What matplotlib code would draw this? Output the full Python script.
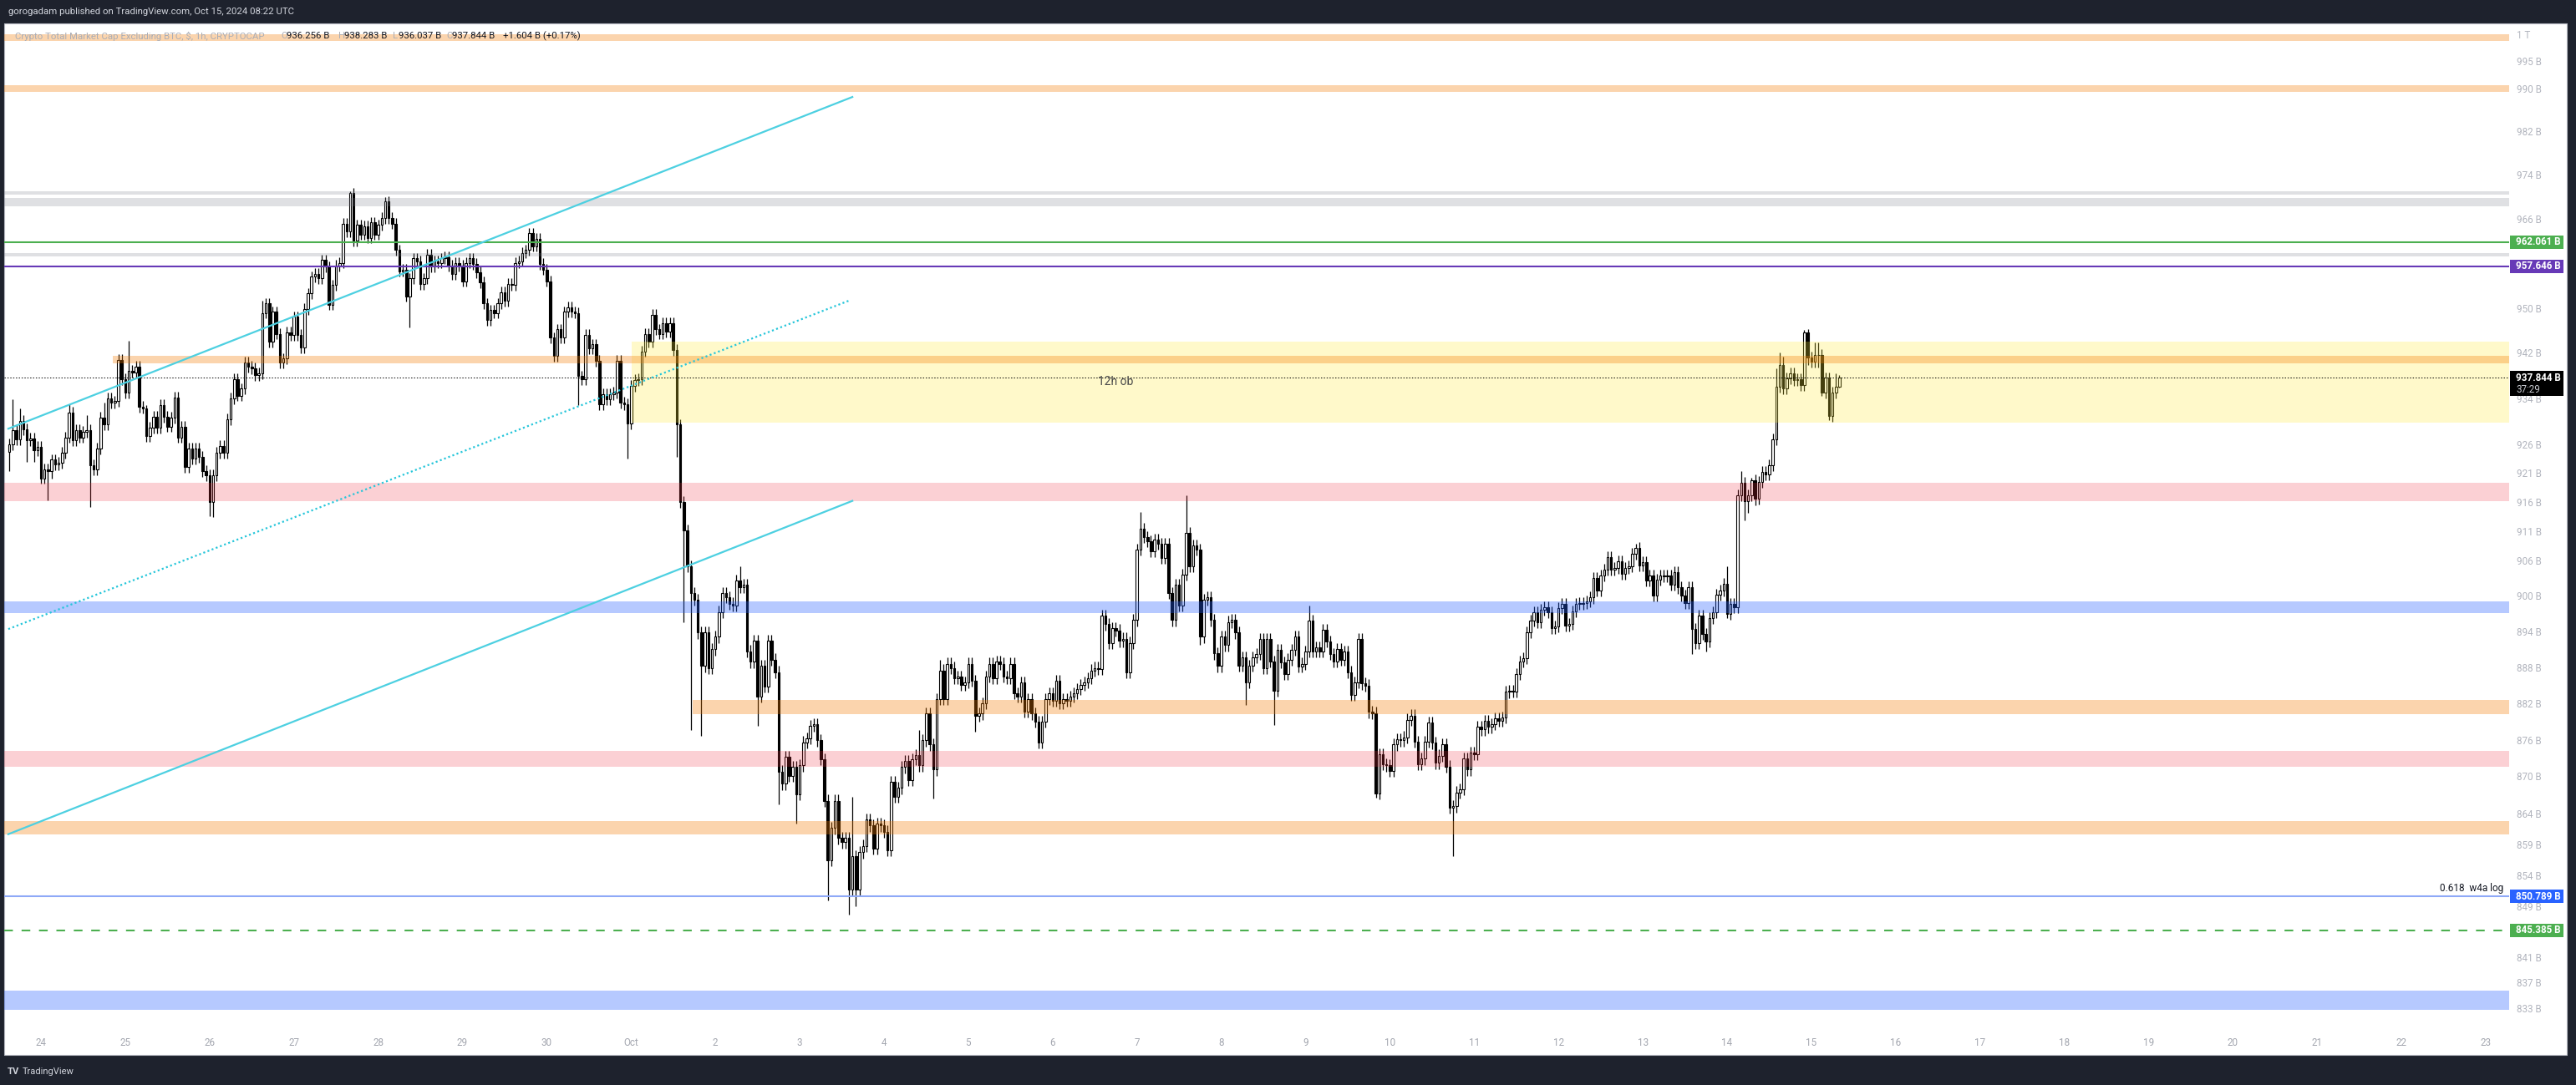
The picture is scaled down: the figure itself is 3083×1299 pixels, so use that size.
import matplotlib.pyplot as plt
from matplotlib import font_manager
from matplotlib.patches import Rectangle

###############################
# Data: Crypto Total Market Cap Excluding BTC (CRYPTOCAP), 1h candles, billions USD
# x axis = hours counted from Sep 24 00:00 UTC

first_hour = -9          # first visible candle is Sep 23 15:00
first_open = 924.8

close_sep23 = [926.2, 928.6, 927.1, 930.3, 928.8, 926.9, 927.2, 925.2, 925.7]
close_sep24 = [920.3, 921.8, 921.5, 923.5, 922.7, 923.0, 924.7, 927.4, 931.7, 926.9, 928.6, 927.4,
               928.4, 928.6, 922.5, 921.8, 925.4, 930.8, 929.6, 934.2, 933.5, 933.7, 941.0, 937.6]
close_sep25 = [935.2, 939.1, 938.8, 939.8, 932.7, 932.5, 927.6, 929.1, 931.0, 929.1, 933.0, 931.0,
               929.3, 930.8, 934.4, 927.4, 929.3, 922.3, 925.4, 923.7, 925.4, 924.0, 921.5, 920.8]
close_sep26 = [916.2, 920.8, 924.7, 925.9, 924.7, 930.5, 934.2, 937.6, 934.7, 935.9, 940.5, 939.8,
               939.5, 938.3, 938.6, 949.3, 951.0, 944.2, 949.5, 945.6, 940.5, 941.2, 945.9, 945.4]
close_sep27 = [948.6, 945.4, 943.2, 950.0, 952.8, 955.8, 956.3, 955.5, 958.8, 957.6, 950.8, 954.3,
               957.8, 958.3, 965.4, 963.9, 970.9, 962.3, 965.1, 963.4, 964.9, 962.8, 965.6, 963.4]
close_sep28 = [965.1, 966.4, 969.4, 966.4, 965.4, 960.6, 956.8, 957.1, 952.3, 955.5, 959.1, 958.6,
               954.5, 955.5, 959.8, 957.6, 958.6, 958.3, 959.1, 959.3, 957.8, 956.3, 958.3, 957.8]
close_sep29 = [955.0, 958.3, 959.1, 958.1, 956.6, 954.8, 951.0, 948.1, 949.8, 949.3, 951.0, 953.0,
               951.5, 954.5, 954.3, 958.3, 958.6, 960.1, 960.6, 963.6, 961.3, 962.6, 958.1, 957.1]
close_sep30 = [955.0, 944.9, 941.7, 946.4, 944.9, 949.5, 950.3, 949.5, 949.3, 938.1, 937.6, 945.4,
               943.0, 943.7, 940.8, 933.2, 934.9, 934.0, 934.9, 935.2, 940.8, 933.5, 933.2, 929.8]
close_oct01 = [936.4, 937.4, 937.6, 942.5, 945.6, 944.2, 949.0, 946.4, 945.6, 947.5, 946.0, 947.5,
               942.7, 929.6, 916.2, 911.3, 905.2, 900.7, 899.6, 894.0, 888.4, 894.0, 888.1, 891.2]
close_oct02 = [893.3, 897.5, 900.7, 900.0, 898.9, 898.6, 902.8, 901.7, 902.1, 890.9, 889.1, 892.6,
               883.3, 888.4, 885.0, 892.6, 889.5, 887.4, 871.0, 869.0, 873.4, 870.3, 871.7, 867.3]
close_oct03 = [872.0, 875.8, 876.4, 878.5, 878.8, 876.1, 873.0, 866.2, 856.6, 861.8, 866.2, 860.2,
               859.5, 860.2, 851.9, 857.2, 851.9, 857.9, 858.9, 863.2, 862.2, 858.5, 862.5, 862.2]
close_oct04 = [861.2, 858.2, 869.3, 866.9, 868.3, 871.7, 872.7, 869.6, 873.0, 873.7, 872.0, 876.1,
               880.5, 875.4, 871.3, 882.9, 887.7, 882.9, 888.8, 888.1, 886.4, 886.7, 885.3, 885.7]
close_oct05 = [888.8, 886.0, 880.2, 880.5, 882.2, 886.7, 888.8, 886.4, 889.1, 888.8, 886.7, 886.4,
               888.8, 883.9, 883.3, 885.7, 880.9, 882.9, 880.5, 879.2, 875.8, 879.2, 882.9, 883.9]
close_oct06 = [882.6, 886.0, 882.2, 882.9, 882.6, 883.3, 883.9, 884.6, 885.3, 885.7, 886.4, 887.7,
               888.1, 887.9, 896.8, 895.4, 892.3, 894.7, 894.4, 892.6, 893.0, 887.4, 892.3, 896.1]
close_oct07 = [908.1, 911.6, 910.2, 909.5, 907.7, 909.8, 909.1, 906.6, 909.1, 900.7, 896.1, 902.1,
               898.6, 903.8, 910.9, 905.2, 908.8, 908.1, 893.3, 899.6, 900.0, 896.1, 890.5, 888.4]
close_oct08 = [893.3, 891.9, 895.8, 896.1, 894.0, 888.5, 889.9, 885.7, 888.5, 889.9, 890.4, 892.9,
               888.1, 892.9, 889.2, 884.3, 891.1, 889.0, 887.1, 889.5, 891.1, 893.4, 888.3, 888.8]
close_oct09 = [890.8, 896.0, 890.8, 891.5, 890.8, 894.5, 892.5, 890.4, 889.2, 891.3, 889.5, 890.8,
               887.4, 883.6, 885.7, 892.9, 885.5, 885.2, 880.8, 880.6, 867.4, 873.8, 872.2, 872.0]
close_oct10 = [871.1, 875.4, 876.3, 876.1, 876.6, 879.5, 880.2, 875.9, 872.2, 873.1, 875.9, 879.0,
               875.7, 872.4, 873.6, 875.4, 871.8, 865.1, 865.3, 867.6, 868.1, 873.1, 871.3, 874.1]
close_oct11 = [873.8, 878.3, 877.9, 879.3, 878.3, 878.8, 879.7, 879.3, 879.9, 884.1, 884.3, 884.2,
               887.1, 889.2, 889.7, 894.1, 896.0, 897.4, 895.7, 897.8, 898.3, 897.4, 894.8, 895.0]
close_oct12 = [898.1, 898.8, 895.2, 895.5, 897.6, 898.8, 898.9, 899.0, 899.3, 899.9, 903.2, 901.1,
               903.7, 904.7, 906.8, 904.7, 904.9, 906.1, 904.0, 904.9, 905.2, 907.3, 908.3, 905.4]
close_oct13 = [905.9, 902.8, 903.7, 900.2, 903.0, 903.6, 903.5, 903.7, 902.1, 904.2, 901.6, 900.2,
               899.0, 901.6, 894.6, 892.2, 896.9, 893.8, 892.5, 896.4, 897.4, 900.4, 901.1, 902.2]
close_oct14 = [897.1, 898.8, 898.3, 917.3, 919.5, 916.3, 917.3, 920.0, 916.8, 919.7, 921.4, 920.9,
               922.6, 927.0, 936.2, 940.1, 936.0, 937.7, 938.6, 937.4, 937.6, 936.5, 945.8, 941.4]
close_oct15 = [940.6, 941.8, 941.9, 935.2, 937.8, 931.1, 935.2, 936.256, 937.844]

# wick extremes that stand out on the chart (hour: price)
high_read = {-8: 934.0, -6: 932.4, 8: 933.1, 13: 931.2, 18: 933.5, 22: 942.0, 25: 944.4,
             30: 933.0, 63: 951.5, 88: 971.3, 98: 970.2, 199: 905.2, 231: 866.9, 250: 877.8,
             256: 889.5, 302: 897.9, 313: 914.5, 326: 917.3, 361: 898.5, 454: 909.0, 480: 905.2,
             483: 918.3, 484: 921.6, 487: 920.4, 494: 939.5, 495: 942.3, 496: 941.6, 502: 946.3,
             503: 946.5, 505: 944.1, 506: 944.1, 511: 938.6, 512: 938.283}
low_read = {-9: 921.5, -4: 923.2, -2: 923.2, 2: 916.5, 3: 920.3, 14: 915.3, 48: 913.8,
            49: 913.6, 105: 946.8, 153: 933.0, 167: 923.7, 181: 924.0, 183: 895.7, 185: 877.8,
            188: 876.8, 204: 878.5, 210: 865.6, 215: 862.5, 224: 850.2, 230: 847.9, 232: 849.2,
            254: 866.6, 266: 877.5, 330: 891.9, 343: 882.0, 351: 878.6, 380: 866.7, 402: 857.2,
            470: 890.4, 474: 890.8, 480: 896.4, 485: 913.0, 486: 914.4, 488: 915.6, 503: 940.1,
            506: 939.6, 507: 934.7, 509: 930.4, 510: 930.1, 512: 936.037}
wick = 1.0   # typical wick (B) for the other candles

# Zones (rectangles drawn on the chart)
zone_lo = [999.1, 989.5, 970.6, 968.5, 959.4, 940.4, 916.4, 897.3, 880.4, 871.8, 860.8, 832.9]
zone_hi = [1000.3, 990.8, 971.2, 970.0, 960.0, 941.7, 919.5, 899.3, 882.8, 874.4, 862.9, 835.9]
zone_from = [None, None, None, None, None, 20.5, None, None, 185.5, None, None, None]
zone_kind = ['orange', 'orange', 'gray', 'gray', 'gray', 'orange',
             'pink', 'blue', 'orange', 'pink', 'orange', 'blue']
ob_lo, ob_hi, ob_from = 930.0, 944.2, 168.2     # "12h ob"

# Horizontal levels
level_green = 962.061
level_purple = 957.646
level_fib = 850.789
level_dash = 845.385

# Channel (drawn lines)
chan_x = [-9.3, 231.0]
chan_upper = [928.9, 988.6]
chan_lower = [860.8, 916.4]
chan_mid_x = [-9.3, 230.0]
chan_mid = [894.6, 951.5]

# Axis labels
price_ticks = [1000, 995, 990, 982, 974, 966, 950, 942, 934, 926, 921, 916, 911, 906, 900,
               894, 888, 882, 876, 870, 864, 859, 854, 849, 841, 837, 833]
day_labels = ['24', '25', '26', '27', '28', '29', '30', 'Oct', '2', '3', '4', '5', '6', '7', '8',
              '9', '10', '11', '12', '13', '14', '15', '16', '17', '18', '19', '20', '21', '22', '23']

legend_ohlc = ['936.256 B', '938.283 B', '936.037 B', '937.844 B']
legend_change = '+1.604 B (+0.17%)'

###############################
# Build candles

closes = (close_sep23 + close_sep24 + close_sep25 + close_sep26 + close_sep27 + close_sep28 +
          close_sep29 + close_sep30 + close_oct01 + close_oct02 + close_oct03 + close_oct04 +
          close_oct05 + close_oct06 + close_oct07 + close_oct08 + close_oct09 + close_oct10 +
          close_oct11 + close_oct12 + close_oct13 + close_oct14 + close_oct15)
hours = list(range(first_hour, first_hour + len(closes)))
opens = [first_open] + closes[:-1]
highs, lows = [], []
for h, o, c in zip(hours, opens, closes):
    hi = high_read.get(h, max(o, c) + wick)
    lo = low_read.get(h, min(o, c) - wick)
    highs.append(max(hi, o, c))
    lows.append(min(lo, o, c))

###############################
# Figure

W, H = 3083, 1299
def fx(px):
    return px / W
def fy(py):
    return 1 - py / H

names = {f.name for f in font_manager.fontManager.ttflist}
if 'Liberation Sans Narrow' in names:
    axis_font, axis_size = 'Liberation Sans Narrow', 9.6
else:
    axis_font, axis_size = 'Roboto', 8.4

fig = plt.figure(figsize=(W / 100, H / 100), dpi=100, facecolor='#1e222d')
fig.add_artist(Rectangle((fx(5), fy(1263)), fx(3072) - fx(5), fy(28) - fy(1263),
                         transform=fig.transFigure, facecolor='white',
                         edgecolor='#b2b5be', linewidth=0.8, zorder=-1))

ax = fig.add_axes([fx(5), fy(1263), (3003 - 5) / W, (1263 - 28) / H])
ax.axis('off')
ax.set_yscale('log')
ax.set_ylim(825.85, 1002.355)
ax.set_xlim(-10.47, 702.65)

# candles
ax.vlines(hours, lows, highs, color='black', linewidth=0.9, zorder=2)
body_lo = [min(o, c) for o, c in zip(opens, closes)]
body_h = [max(abs(c - o), 0.12) for o, c in zip(opens, closes)]
body_col = ['white' if c >= o else 'black' for o, c in zip(opens, closes)]
ax.bar(hours, body_h, bottom=body_lo, width=0.6, color=body_col,
       edgecolor='black', linewidth=0.8, zorder=3)

# zones
zone_style = {'orange': ('#f57c00', 0.32), 'pink': ('#f23645', 0.23),
              'blue': ('#2962ff', 0.34), 'gray': ('#787b86', 0.23)}
x0, x1 = ax.get_xlim()
ax.fill_between([ob_from, x1], ob_lo, ob_hi, color='#ffeb3b', alpha=0.27, lw=0, zorder=4)
for lo, hi, start, kind in zip(zone_lo, zone_hi, zone_from, zone_kind):
    col, a = zone_style[kind]
    ax.fill_between([x0 if start is None else start, x1], lo, hi, color=col, alpha=a,
                    lw=0, zorder=4)
ax.text(305.9, 937.1, '12h ob', ha='center', va='center', fontsize=10,
        color='#4a4a4a', family='Roboto', zorder=7)

# levels
ax.axhline(level_green, color='#4caf50', lw=1.5, zorder=6)
ax.axhline(level_purple, color='#673ab7', lw=1.5, zorder=6)
ax.axhline(level_fib, color='#8fa9f7', lw=1.5, zorder=6)
ax.axhline(level_dash, color='#4caf50', lw=1.5, linestyle=(0, (5, 5)), zorder=6)
ax.axhline(closes[-1], color='black', lw=0.7, linestyle=(0, (1.5, 2)), zorder=6)

# channel
ax.plot(chan_x, chan_upper, color='#4dd0e1', lw=1.6, zorder=6)
ax.plot(chan_x, chan_lower, color='#4dd0e1', lw=1.6, zorder=6)
ax.plot(chan_mid_x, chan_mid, color='#26c6da', lw=1.6, linestyle=(0, (1, 1.4)), zorder=6)

###############################
# Price scale and time scale

def ypix(v):
    return ax.transData.transform((0, v))[1]

for v in price_ticks:
    lab = '1 T' if v >= 1000 else f'{v} B'
    fig.text(fx(3012), ypix(v) / H, lab, ha='left', va='center', color='#b2b5be',
             fontsize=axis_size, family=axis_font, zorder=2)

def price_box(v, text, color, sub=None):
    y = ypix(v)
    top, bottom = y + 8, y - (22 if sub else 8)
    fig.add_artist(Rectangle((fx(3004), bottom / H), 64 / W, (top - bottom) / H,
                             transform=fig.transFigure, facecolor=color,
                             edgecolor='none', zorder=5))
    fig.text(fx(3011), y / H, text, ha='left', va='center', color='white',
             fontsize=axis_size, family=axis_font, fontweight='bold', zorder=6)
    if sub:
        fig.text(fx(3011), (y - 14) / H, sub, ha='left', va='center', color='#c9cbd1',
                 fontsize=axis_size, family=axis_font, zorder=6)

price_box(level_green, '962.061 B', '#4caf50')
price_box(level_purple, '957.646 B', '#673ab7')
price_box(closes[-1], '937.844 B', '#000000', sub='37:29')
price_box(level_fib, '850.789 B', '#2962ff')
price_box(level_dash, '845.385 B', '#4caf50')

fig.text(fx(2996), (ypix(level_fib) + 10) / H, '0.618  w4a log', ha='right', va='center',
         fontsize=8.5, color='#131722', family='Roboto')

for d, lab in enumerate(day_labels):
    xp = ax.transData.transform((24 * d, 900))[0]
    fig.text(xp / W, fy(1249), lab, ha='center', va='center', color='#a3a6af',
             fontsize=axis_size, family=axis_font)

###############################
# Header, legend, footer

fig.text(fx(10), fy(14), 'gorogadam published on TradingView.com, Oct 15, 2024 08:22 UTC',
         ha='left', va='center', color='#d1d4dc', fontsize=8.2, family='Roboto')

fig.text(fx(18), fy(43), 'Crypto Total Market Cap Excluding BTC, $, 1h, CRYPTOCAP',
         ha='left', va='center', color='#abadb5', fontsize=8.2, family='Roboto', zorder=8)
for letter, value, xl in zip('OHLC', legend_ohlc, [336, 405, 470, 534]):
    fig.text(fx(xl), fy(43), letter, ha='left', va='center', color='#abadb5',
             fontsize=8.2, family='Roboto', zorder=8)
    fig.text(fx(xl + 7), fy(43), value, ha='left', va='center', color='#131722',
             fontsize=8.2, family='Roboto', zorder=8)
fig.text(fx(602), fy(43), legend_change, ha='left', va='center', color='#131722',
         fontsize=8.2, family='Roboto', zorder=8)

fig.text(fx(9), fy(1283), 'TV', ha='left', va='center', color='#d1d4dc',
         fontsize=8, family='Roboto', fontweight='bold')
fig.text(fx(27), fy(1283), 'TradingView', ha='left', va='center', color='#d1d4dc',
         fontsize=8, family='Roboto')

fig.savefig('out.png', dpi=100, facecolor=fig.get_facecolor())
